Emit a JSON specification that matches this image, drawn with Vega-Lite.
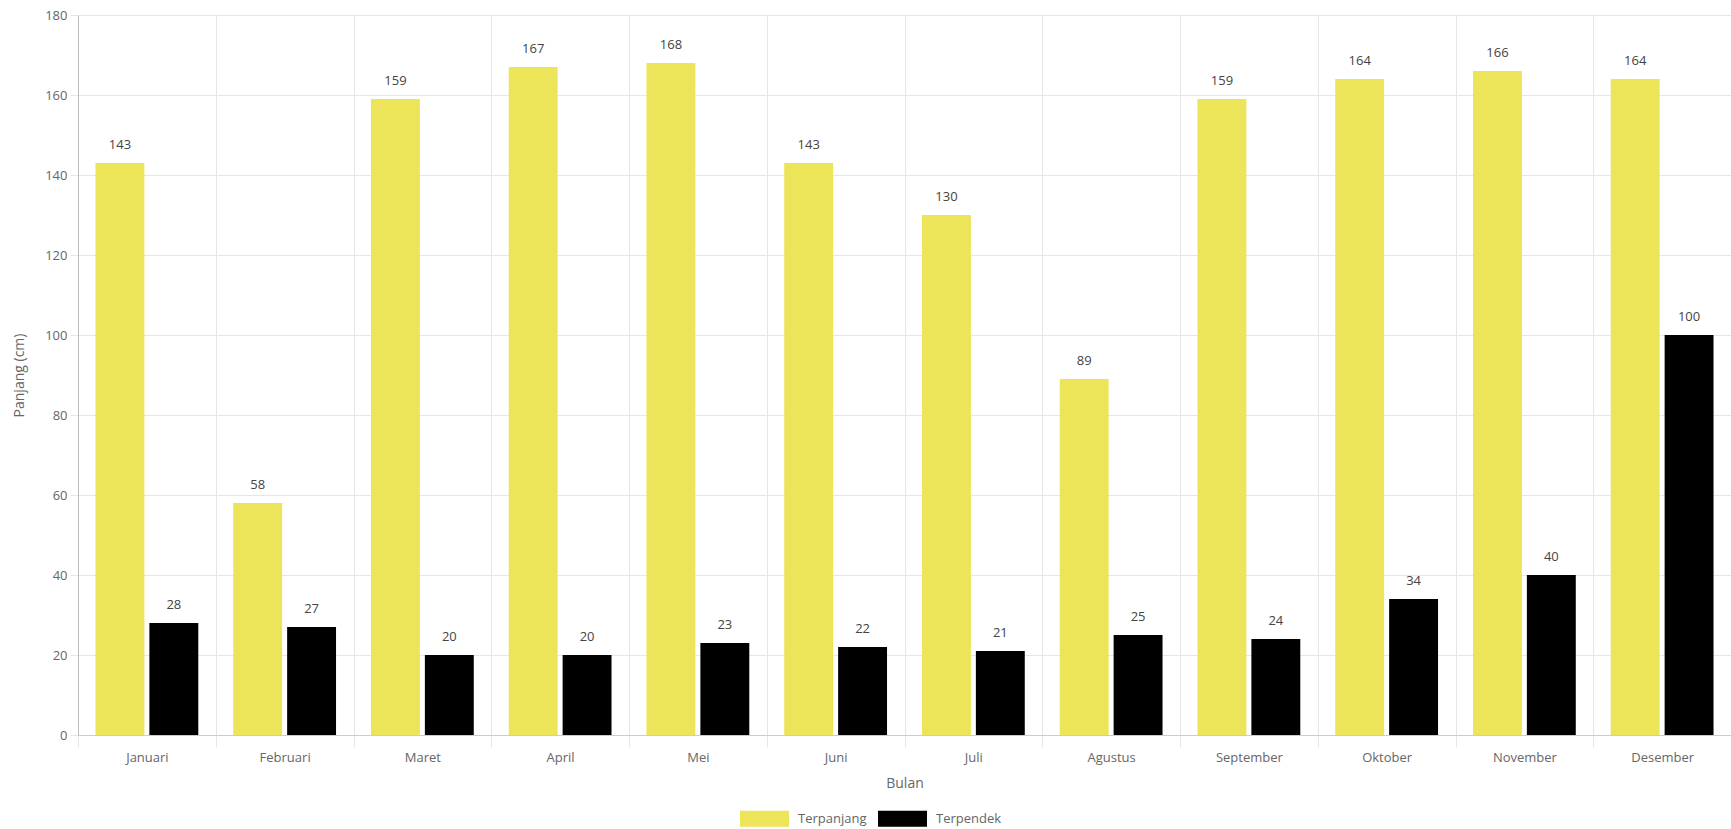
{
  "$schema": "https://vega.github.io/schema/vega-lite/v6.json",
  "width": 1653,
  "height": 720,
  "autosize": {"type": "none"},
  "padding": {"left": 78, "top": 15, "right": 0, "bottom": 94},
  "background": "white",
  "config": {
    "font": "Open Sans",
    "view": {"stroke": null},
    "axis": {"labelColor": "#666666", "titleColor": "#666666", "labelFontSize": 13, "titleFontSize": 14, "titleFontWeight": "normal", "gridColor": "#e6e6e6", "tickColor": "#e6e6e6"}
  },
  "data": {
    "values": [
      {"Bulan": "Januari", "Jenis": "Terpanjang", "Nilai": 143},
      {"Bulan": "Januari", "Jenis": "Terpendek", "Nilai": 28},
      {"Bulan": "Februari", "Jenis": "Terpanjang", "Nilai": 58},
      {"Bulan": "Februari", "Jenis": "Terpendek", "Nilai": 27},
      {"Bulan": "Maret", "Jenis": "Terpanjang", "Nilai": 159},
      {"Bulan": "Maret", "Jenis": "Terpendek", "Nilai": 20},
      {"Bulan": "April", "Jenis": "Terpanjang", "Nilai": 167},
      {"Bulan": "April", "Jenis": "Terpendek", "Nilai": 20},
      {"Bulan": "Mei", "Jenis": "Terpanjang", "Nilai": 168},
      {"Bulan": "Mei", "Jenis": "Terpendek", "Nilai": 23},
      {"Bulan": "Juni", "Jenis": "Terpanjang", "Nilai": 143},
      {"Bulan": "Juni", "Jenis": "Terpendek", "Nilai": 22},
      {"Bulan": "Juli", "Jenis": "Terpanjang", "Nilai": 130},
      {"Bulan": "Juli", "Jenis": "Terpendek", "Nilai": 21},
      {"Bulan": "Agustus", "Jenis": "Terpanjang", "Nilai": 89},
      {"Bulan": "Agustus", "Jenis": "Terpendek", "Nilai": 25},
      {"Bulan": "September", "Jenis": "Terpanjang", "Nilai": 159},
      {"Bulan": "September", "Jenis": "Terpendek", "Nilai": 24},
      {"Bulan": "Oktober", "Jenis": "Terpanjang", "Nilai": 164},
      {"Bulan": "Oktober", "Jenis": "Terpendek", "Nilai": 34},
      {"Bulan": "November", "Jenis": "Terpanjang", "Nilai": 166},
      {"Bulan": "November", "Jenis": "Terpendek", "Nilai": 40},
      {"Bulan": "Desember", "Jenis": "Terpanjang", "Nilai": 164},
      {"Bulan": "Desember", "Jenis": "Terpendek", "Nilai": 100}
    ]
  },
  "encoding": {
    "x": {
      "field": "Bulan", "type": "nominal",
      "sort": ["Januari","Februari","Maret","April","Mei","Juni","Juli","Agustus","September","Oktober","November","Desember"],
      "scale": {"paddingInner": 0, "paddingOuter": 0},
      "axis": {"title": "Bulan", "labelAngle": 0, "tickBand": "extent", "grid": true, "tickSize": 12, "labelPadding": 4, "titlePadding": 12, "domainColor": "#cccccc"}
    },
    "xOffset": {
      "field": "Jenis", "type": "nominal",
      "sort": ["Terpanjang", "Terpendek"],
      "scale": {"paddingInner": 0.093, "paddingOuter": 0.324}
    },
    "y": {
      "field": "Nilai", "type": "quantitative",
      "scale": {"domain": [0, 180], "nice": false},
      "axis": {"title": "Panjang (cm)", "values": [0,20,40,60,80,100,120,140,160,180], "tickSize": 8, "labelPadding": 3, "titlePadding": 18, "domainColor": "#bbbbbb"}
    }
  },
  "layer": [
    {
      "mark": {"type": "bar"},
      "encoding": {
        "color": {
          "field": "Jenis", "type": "nominal",
          "sort": ["Terpanjang", "Terpendek"],
          "scale": {"domain": ["Terpanjang", "Terpendek"], "range": ["#ece55a", "#000000"]},
          "legend": {
            "title": null, "orient": "none", "direction": "horizontal",
            "legendX": 662, "legendY": 779,
            "symbolType": "M-1,-0.327H1V0.327H-1Z", "symbolSize": 2401, "symbolStrokeWidth": 0,
            "labelFont": "Open Sans", "labelFontSize": 13, "labelColor": "#666666", "labelOffset": 9, "columnPadding": 11
          }
        }
      }
    },
    {
      "mark": {"type": "text", "baseline": "alphabetic", "dy": -14, "fontSize": 13, "color": "#444444"},
      "encoding": {"text": {"field": "Nilai", "type": "quantitative"}}
    }
  ]
}
